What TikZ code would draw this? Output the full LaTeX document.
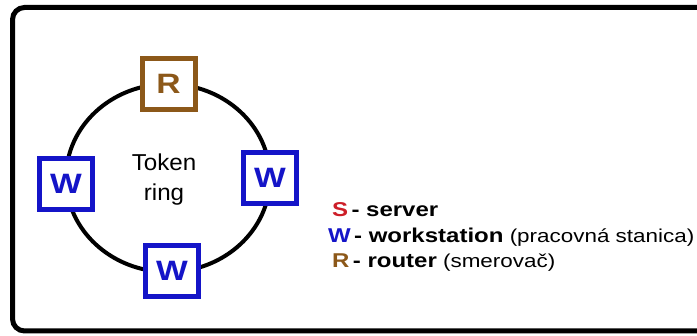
\documentclass[tikz,border=0pt]{standalone}
\usepackage{fontspec}
\setmainfont{Liberation Sans}
\newfontfamily\widesans[FakeStretch=1.2]{Liberation Sans}
\newfontfamily\ringsans[FakeStretch=1.05]{Liberation Sans}
\definecolor{wsblue}{RGB}{20,20,200}
\definecolor{rtbrown}{RGB}{140,88,25}
\definecolor{srvred}{RGB}{205,30,40}
\newcommand{\legbold}[1]{{\bfseries\fontsize{20}{22}\selectfont #1}}
\tikzset{
  nodebox/.style={draw, line width=5pt, fill=white, inner sep=0pt,
    minimum width=53pt, minimum height=51pt,
    font=\widesans\bfseries\fontsize{28}{30}\selectfont},
  wsbox/.style={nodebox, draw=wsblue, text=wsblue},
  rtbox/.style={nodebox, draw=rtbrown, text=rtbrown},
  legend/.style={anchor=base west, inner sep=0pt,
    font=\widesans\fontsize{18.7}{20}\selectfont},
}
\begin{document}
\begin{tikzpicture}[x=1pt,y=-1pt]
  \useasboundingbox (0,0) rectangle (697,336);
  % outer frame, open to the right
  \draw[line width=5pt, rounded corners=12pt]
    (720,7.5) -- (12.5,7.5) -- (12.5,331) -- (720,331);
  % ring
  \draw[line width=4pt] (168,178) ellipse [x radius=102, y radius=94];
  \node[align=center, font=\ringsans\fontsize{23}{30}\selectfont]
    (label) at (164,180) {Token\\ring};
  % stations on the ring
  \node[rtbox] (r)  at (168.5,84) {R};
  \node[wsbox] (w1) at (66,184) {W};
  \node[wsbox] (w2) at (270,178) {W};
  \node[wsbox] (w3) at (172,271) {W};
  % legend
  \node[legend] (ls) at (332,217)
    {\legbold{\textcolor{srvred}{S}\,- server}};
  \node[legend] (lw) at (328,243)
    {\legbold{\textcolor{wsblue}{W}\,- workstation} (pracovná stanica)};
  \node[legend] (lr) at (332,268)
    {\legbold{\textcolor{rtbrown}{R}\,- router} (smerovač)};
\end{tikzpicture}
\end{document}
